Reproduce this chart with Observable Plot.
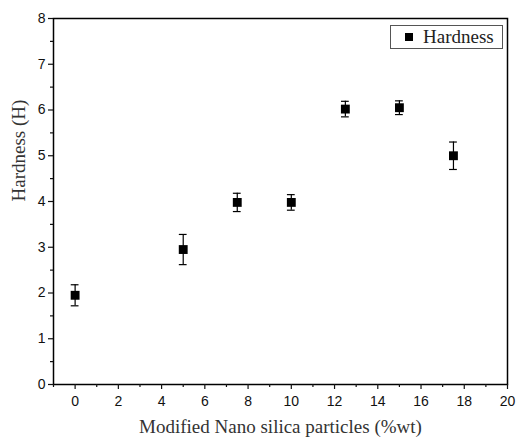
<!DOCTYPE html>
<html>
<head>
<meta charset="utf-8">
<script src="https://cdn.jsdelivr.net/npm/d3@7"></script>
<script src="https://cdn.jsdelivr.net/npm/@observablehq/plot@0.6"></script>
<style>
  html, body { margin: 0; padding: 0; background: #fff; }
  #wrap { position: relative; width: 517px; height: 442px; }
  #legend { position: absolute; left: 390px; top: 25px; width: 113px; height: 24px;
    border: 1px solid #555; background: #fff; box-sizing: border-box;
    font-family: "Liberation Serif", serif; font-size: 19px; color: #222; }
  #legend .sw { position: absolute; left: 14px; top: 7px; width: 8px; height: 8px; background: #000; }
  #legend .lb { position: absolute; left: 32px; top: 0px; line-height: 22px; }
</style>
</head>
<body>
<div id="wrap"></div>
<script>
const silica = [0, 5, 7.5, 10, 12.5, 15, 17.5];
const hardness = [1.95, 2.95, 3.98, 3.98, 6.02, 6.05, 5.0];
const errors = [0.23, 0.33, 0.2, 0.17, 0.17, 0.15, 0.3];
const xTicks = [0, 2, 4, 6, 8, 10, 12, 14, 16, 18, 20];
const xMinor = [-1, 1, 3, 5, 7, 9, 11, 13, 15, 17, 19];
const yTicks = [0, 1, 2, 3, 4, 5, 6, 7, 8];
const yMinor = [0.5, 1.5, 2.5, 3.5, 4.5, 5.5, 6.5, 7.5];
const seriesName = "Hardness";
const xLabel = "Modified Nano silica particles (%wt)";
const yLabel = "Hardness (H)";

const data = silica.map((x, i) => ({x, y: hardness[i], e: errors[i]}));
const capHalf = 0.18;

const chart = Plot.plot({
  width: 517, height: 442,
  marginLeft: 53, marginRight: 10, marginTop: 18, marginBottom: 58,
  style: {fontFamily: "Liberation Sans, Arial, sans-serif", color: "#111", background: "#fff"},
  x: {domain: [-1, 20]},
  y: {domain: [0, 8]},
  marks: [
    Plot.frame({stroke: "#000", strokeWidth: 1.5}),
    Plot.axisX({ticks: xTicks, tickSize: 5, tickPadding: 7, fontSize: 14, label: null, strokeWidth: 1.2}),
    Plot.axisX({ticks: xMinor, tickSize: 3, text: null, label: null, strokeWidth: 1.2}),
    Plot.axisY({ticks: yTicks, tickSize: 5, tickPadding: 3, fontSize: 14, label: null, strokeWidth: 1.2}),
    Plot.axisY({ticks: yMinor, tickSize: 3, text: null, label: null, strokeWidth: 1.2}),
    Plot.ruleX(data, {x: "x", y1: d => d.y - d.e, y2: d => d.y + d.e, stroke: "#000", strokeWidth: 1.2}),
    Plot.ruleY(data, {y: d => d.y - d.e, x1: d => d.x - capHalf, x2: d => d.x + capHalf, stroke: "#000", strokeWidth: 1.2}),
    Plot.ruleY(data, {y: d => d.y + d.e, x1: d => d.x - capHalf, x2: d => d.x + capHalf, stroke: "#000", strokeWidth: 1.2}),
    Plot.dot(data, {x: "x", y: "y", symbol: "square", fill: "#000", stroke: "none", r: 5}),
    Plot.text([xLabel], {frameAnchor: "bottom", dy: 48, fontFamily: "Liberation Serif, serif", fontSize: 19, fill: "#333"}),
    Plot.text([yLabel], {frameAnchor: "left", rotate: -90, dx: -35, fontFamily: "Liberation Serif, serif", fontSize: 19, fill: "#333"})
  ]
});

const wrap = document.getElementById("wrap");
wrap.appendChild(chart);
const legend = document.createElement("div");
legend.id = "legend";
legend.innerHTML = `<div class="sw"></div><div class="lb">${seriesName}</div>`;
wrap.appendChild(legend);
</script>
</body>
</html>
